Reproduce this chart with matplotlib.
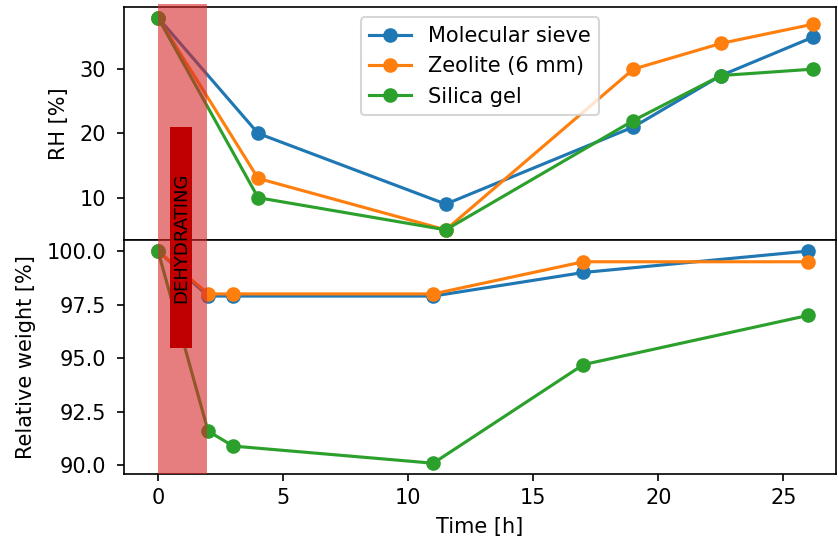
import matplotlib
matplotlib.use("Agg")
import matplotlib.pyplot as plt
from matplotlib.patches import Rectangle
import matplotlib.transforms as mtransforms

# relative humidity in the chamber
t_rh = [0, 4, 11.5, 19, 22.5, 26.2]
rh_sieve = [38, 20, 9, 21, 29, 35]
rh_zeolite = [38, 13, 5, 30, 34, 37]
rh_silica = [38, 10, 5, 22, 29, 30]

# relative weight of the samples
t_w = [0, 2, 3, 11, 17, 26]
w_sieve = [100, 97.9, 97.9, 97.9, 99.0, 100.0]
w_zeolite = [100, 98.0, 98.0, 98.0, 99.5, 99.5]
w_silica = [100, 91.6, 90.9, 90.1, 94.7, 97.0]

labels = ["Molecular sieve", "Zeolite (6 mm)", "Silica gel"]
dehyd_end = 1.95  # end of dehydrating phase (h)

DPI = 150
fig, (ax1, ax2) = plt.subplots(2, 1, sharex=True, figsize=(838/DPI, 544/DPI), dpi=DPI)
fig.subplots_adjust(left=0.148, right=0.9976, top=0.987, bottom=0.129, hspace=0)

ax1.plot(t_rh, rh_sieve, marker='o', label=labels[0])
ax1.plot(t_rh, rh_zeolite, marker='o', label=labels[1])
ax1.plot(t_rh, rh_silica, marker='o', label=labels[2])
ax1.set_ylabel("RH [%]", labelpad=5)
ax1.legend(loc='upper center')
ax1.tick_params(axis='x', bottom=False, labelbottom=False)
ax1.tick_params(axis='y', pad=5)

ax2.plot(t_w, w_sieve, marker='o')
ax2.plot(t_w, w_zeolite, marker='o')
ax2.plot(t_w, w_silica, marker='o')
ax2.set_ylabel("Relative weight [%]", labelpad=5)
ax2.set_xlabel("Time [h]")
ax2.tick_params(axis='y', pad=5)
ax2.set_xlim(-1.36, 27.1)

# shaded dehydrating period over both panels
trans = mtransforms.blended_transform_factory(ax2.transData, ax2.transAxes)
ax2.add_patch(Rectangle((0, 0), dehyd_end, 2.013, transform=trans, color='tab:red',
                        alpha=0.6, lw=0, clip_on=False, zorder=5))

fig.patches.append(Rectangle((0.2029, 0.3603), 0.0263, 0.406, transform=fig.transFigure,
                             facecolor='#c00000', edgecolor='none', zorder=6))
fig.text(0.2160, 0.5634, "DEHYDRATING", rotation=90, ha='center', va='center',
         fontsize=8.7, zorder=7)

plt.savefig("out.png", dpi=DPI)
